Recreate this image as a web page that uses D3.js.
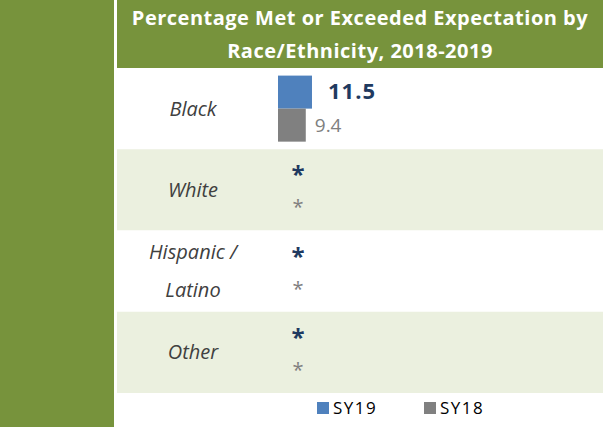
<!DOCTYPE html>
<html>
<head>
<meta charset="utf-8">
<script src="https://cdn.jsdelivr.net/npm/d3@7"></script>
<style>
  body { margin: 0; background: #fff; }
  svg { display: block; }
</style>
</head>
<body>
<div id="chart"></div>
<script>
// data
const groups = ["Black", "White", "Hispanic / Latino", "Other"];
const series = ["SY19", "SY18"];
const sy19 = [11.5, null, null, null];   // null = suppressed (*)
const sy18 = [9.4, null, null, null];
const titleLines = ["Percentage Met or Exceeded Expectation by", "Race/Ethnicity, 2018-2019"];

const W = 603, H = 427;
const colors = { SY19: "#4F81BD", SY18: "#808080" };
const green = "#77933C", band = "#EBF0DF";

const svg = d3.select("#chart").append("svg")
    .attr("width", W).attr("height", H);

// left green strip + title band
svg.append("rect").attr("x", 0).attr("y", 0).attr("width", 114).attr("height", H).attr("fill", green);
svg.append("rect").attr("x", 117).attr("y", 0).attr("width", W - 117).attr("height", 68).attr("fill", green);

svg.selectAll(".title")
    .data(titleLines)
    .join("text")
    .attr("x", 360)
    .attr("y", (d, i) => 25 + i * 33)
    .attr("text-anchor", "middle")
    .style("font-family", "'Open Sans', sans-serif")
    .style("font-weight", "bold")
    .style("font-size", "20px")
    .style("letter-spacing", "0.5px")
    .style("fill", "#fff")
    .text(d => d);

// scales
const y = d3.scaleBand().domain(groups).range([68, 393]).padding(0);
const sub = d3.scaleBand().domain(series).range([0, y.bandwidth()]).paddingInner(0).paddingOuter(0.23);
const x = d3.scaleLinear().domain([0, 100]).range([278, 278 + 295.5]);

// row shading
svg.selectAll(".row")
    .data(groups)
    .join("rect")
    .attr("x", 117)
    .attr("y", d => y(d))
    .attr("width", W - 117)
    .attr("height", y.bandwidth())
    .attr("fill", (d, i) => i % 2 ? band : "#fff");

// category labels
const labels = svg.append("g");
groups.forEach(function (g) {
    const parts = g === "Hispanic / Latino" ? ["Hispanic /", "Latino"] : [g];
    const cy = y(g) + y.bandwidth() / 2;
    parts.forEach(function (p, k) {
        labels.append("text")
            .attr("x", 193)
            .attr("y", cy + 7 + (k - (parts.length - 1) / 2) * 38)
            .attr("text-anchor", "middle")
            .style("font-family", "'Open Sans', sans-serif")
            .style("font-style", "italic")
            .style("font-size", "20px")
            .style("fill", "#404040")
            .text(p);
    });
});

// bars
const rows = [];
groups.forEach(function (g, i) {
    rows.push({ group: g, key: "SY19", value: sy19[i] });
    rows.push({ group: g, key: "SY18", value: sy18[i] });
});

svg.selectAll(".bar")
    .data(rows.filter(d => d.value != null))
    .join("rect")
    .attr("x", x(0))
    .attr("y", d => y(d.group) + sub(d.key))
    .attr("width", d => x(d.value) - x(0))
    .attr("height", sub.bandwidth())
    .attr("fill", d => colors[d.key]);

// value labels
svg.selectAll(".val")
    .data(rows)
    .join("text")
    .attr("x", function (d) {
        if (d.value == null) return x(0) + 20;
        return x(d.value) + (d.key === "SY19" ? 16 : 9);
    })
    .attr("y", function (d) {
        const c = y(d.group) + sub(d.key) + sub.bandwidth() / 2;
        if (d.value == null) return c + (d.key === "SY19" ? 10 : 8);
        return c + 7;
    })
    .attr("text-anchor", d => d.value == null ? "middle" : "start")
    .style("font-family", "'Open Sans', sans-serif")
    .style("font-weight", d => d.key === "SY19" ? "bold" : "normal")
    .style("font-size", function (d) {
        if (d.value == null) return d.key === "SY19" ? "24px" : "20px";
        return d.key === "SY19" ? "22px" : "19px";
    })
    .style("letter-spacing", d => d.value != null && d.key === "SY19" ? "1px" : "0px")
    .style("fill", d => d.key === "SY19" ? "#1F3A60" : "#808080")
    .text(d => d.value == null ? "*" : d.value.toFixed(1));

// legend
const legend = svg.append("g");
const lx = [317, 424];
series.forEach(function (s, i) {
    legend.append("rect")
        .attr("x", lx[i]).attr("y", 402)
        .attr("width", 12).attr("height", 12)
        .attr("fill", colors[s]);
    legend.append("text")
        .attr("x", lx[i] + 16).attr("y", 414)
        .style("font-family", "'Open Sans', sans-serif")
        .style("font-size", "17px")
        .style("letter-spacing", "1.5px")
        .style("fill", "#000")
        .text(s);
});
</script>
</body>
</html>
